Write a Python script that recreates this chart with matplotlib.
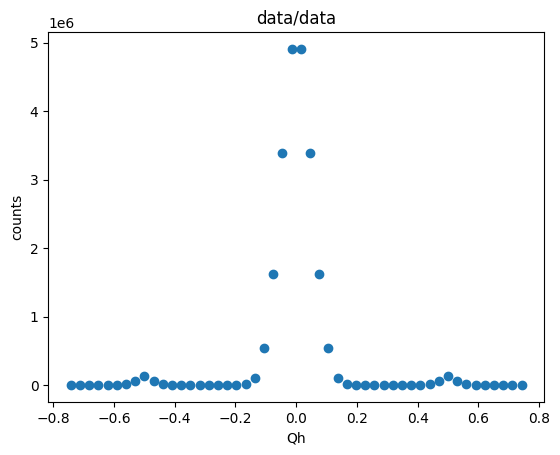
import matplotlib
matplotlib.use("Agg")
import matplotlib.pyplot as plt

# Qh bin centres (50 points, symmetric about zero)
qh = [-0.7424, -0.7121, -0.6818, -0.6515, -0.6212, -0.5909, -0.5606, -0.5303,
      -0.5000, -0.4697, -0.4394, -0.4091, -0.3788, -0.3485, -0.3182, -0.2879,
      -0.2576, -0.2273, -0.1970, -0.1667, -0.1364, -0.1061, -0.0758, -0.0455,
      -0.0152, 0.0152, 0.0455, 0.0758, 0.1061, 0.1364, 0.1667, 0.1970,
      0.2273, 0.2576, 0.2879, 0.3182, 0.3485, 0.3788, 0.4091, 0.4394,
      0.4697, 0.5000, 0.5303, 0.5606, 0.5909, 0.6212, 0.6515, 0.6818,
      0.7121, 0.7424]

counts = [2e3, 2e3, 2e3, 2e3, 3e3, 5e3, 1.5e4, 6.0e4,
          1.30e5, 6.0e4, 1.5e4, 5e3, 3e3, 2e3, 2e3, 2e3,
          2e3, 3e3, 5e3, 1.5e4, 1.10e5, 5.40e5, 1.62e6, 3.39e6,
          4.91e6, 4.91e6, 3.39e6, 1.62e6, 5.40e5, 1.10e5, 1.5e4, 5e3,
          3e3, 2e3, 2e3, 2e3, 2e3, 3e3, 5e3, 1.5e4,
          6.0e4, 1.30e5, 6.0e4, 1.5e4, 5e3, 3e3, 2e3, 2e3,
          2e3, 2e3]

fig, ax = plt.subplots(figsize=(6.4, 4.8))
ax.scatter(qh, counts)
ax.set_title("data/data")
ax.set_xlabel("Qh")
ax.set_ylabel("counts")

fig.savefig("out.png", dpi=100, bbox_inches="tight")
